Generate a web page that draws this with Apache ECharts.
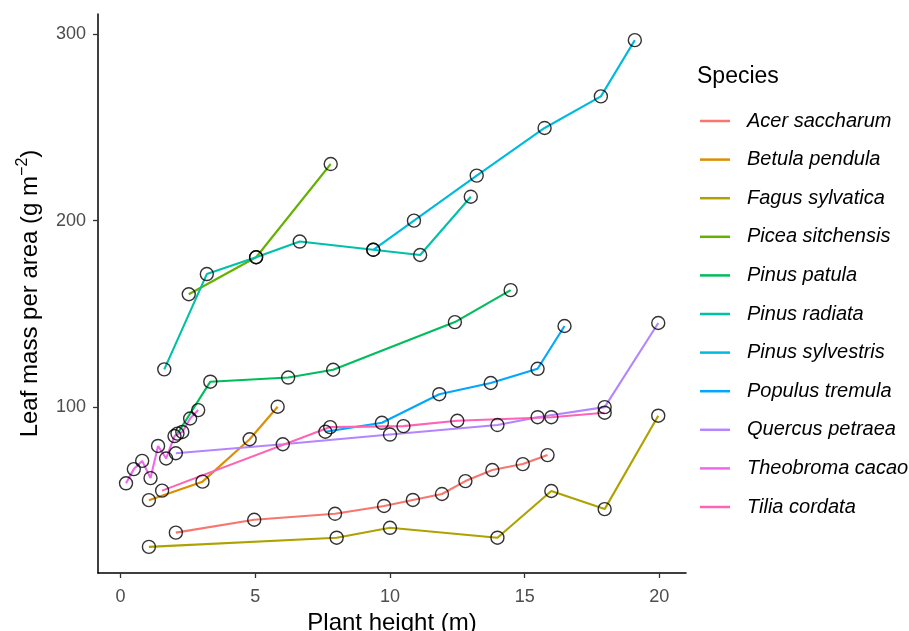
<!DOCTYPE html>
<html>
<head>
<meta charset="utf-8">
<script src="https://cdn.jsdelivr.net/npm/echarts@6/dist/echarts.min.js"></script>
<style>html,body{margin:0;padding:0;background:#fff;}#c{width:909px;height:631px;}</style>
</head>
<body>
<div id="c"></div>
<script>
const species = ["Acer saccharum","Betula pendula","Fagus sylvatica","Picea sitchensis","Pinus patula","Pinus radiata","Pinus sylvestris","Populus tremula","Quercus petraea","Theobroma cacao","Tilia cordata"];
const colors = ["#F8766D","#DB8E00","#AEA200","#64B200","#00BD5C","#00C1A7","#00BADE","#00A6FF","#B385FF","#EF67EB","#FF63B6"];

const xAcer = [2.05, 4.96, 7.96, 9.78, 10.85, 11.93, 12.8, 13.8, 14.93, 15.85];
const yAcer = [33.0, 39.9, 43.1, 47.3, 50.5, 53.7, 60.6, 66.5, 69.7, 74.5];
const xBetula = [1.05, 3.04, 4.79, 5.83];
const yBetula = [50.4, 60.3, 83.0, 100.4];
const xFagus = [1.05, 8.02, 10.0, 13.99, 15.99, 17.97, 19.96];
const yFagus = [25.4, 30.3, 35.6, 30.3, 55.3, 45.6, 95.6];
const xPicea = [2.53, 5.03, 7.8];
const yPicea = [160.6, 180.4, 230.3];
const xPatula = [2.11, 3.33, 6.22, 7.89, 12.41, 14.48];
const yPatula = [86.0, 113.8, 116.0, 120.2, 145.7, 162.8];
const xRadiata = [1.62, 3.2, 5.03, 6.65, 9.38, 11.12, 13.0];
const yRadiata = [120.4, 171.4, 180.4, 188.8, 184.4, 181.6, 212.8];
const xSylvestris = [9.38, 10.89, 13.22, 15.74, 17.83, 19.09];
const ySylvestris = [184.4, 200.0, 224.1, 249.6, 266.5, 296.6];
const xPopulus = [7.6, 9.7, 11.83, 13.74, 15.48, 16.48];
const yPopulus = [87.0, 91.8, 107.1, 113.1, 120.7, 143.6];
const xQuercus = [2.05, 6.02, 10.0, 13.99, 15.48, 17.97, 19.96];
const yQuercus = [75.5, 80.3, 85.5, 90.6, 94.8, 100.2, 145.2];
const xTheobroma = [0.2, 0.49, 0.8, 1.11, 1.39, 1.69, 2.0, 2.29, 2.58, 2.88];
const yTheobroma = [59.4, 67.0, 71.4, 62.2, 79.4, 72.7, 84.7, 86.9, 94.1, 98.6];
const xTilia = [1.54, 7.78, 10.5, 12.5, 15.99, 17.97];
const yTilia = [55.5, 89.5, 90.0, 92.9, 94.8, 97.2];

const xTicks = [0, 5, 10, 15, 20];
const yTicks = [100, 200, 300];

const xs = [xAcer, xBetula, xFagus, xPicea, xPatula, xRadiata, xSylvestris, xPopulus, xQuercus, xTheobroma, xTilia];
const ys = [yAcer, yBetula, yFagus, yPicea, yPatula, yRadiata, ySylvestris, yPopulus, yQuercus, yTheobroma, yTilia];

const FONT = "Liberation Sans";
const series = [];
species.forEach((sp, i) => {
  const data = xs[i].map((x, k) => [x, ys[i][k]]);
  series.push({
    type: 'line', name: sp, data: data, showSymbol: false, symbol: 'none',
    itemStyle: {color: colors[i]}, lineStyle: {color: colors[i], width: 2.1},
    z: 2, animation: false
  });
});
species.forEach((sp, i) => {
  const data = xs[i].map((x, k) => [x, ys[i][k]]);
  series.push({
    type: 'scatter', name: sp + ' points', data: data, symbol: 'circle', symbolSize: 13,
    itemStyle: {color: 'rgba(0,0,0,0)', borderColor: '#000', borderWidth: 1.4},
    z: 5, animation: false, silent: true
  });
});

const chart = echarts.init(document.getElementById('c'));
chart.setOption({
  animation: false,
  backgroundColor: '#fff',
  grid: {left: 98, right: 223, top: 14, bottom: 58, containLabel: false, outerBoundsMode: 'none'},
  title: {text: 'Species', left: 692, top: 60, textStyle: {fontFamily: FONT, fontSize: 23, fontWeight: 'normal', color: '#000'}},
  legend: {
    data: species, orient: 'vertical', left: 695, top: 106,
    icon: 'rect', itemWidth: 30, itemHeight: 2.5, itemGap: 18.6,
    textStyle: {fontFamily: FONT, fontSize: 20, fontStyle: 'italic', color: '#000', lineHeight: 20, padding: [0, 0, 0, 12]}
  },
  xAxis: {
    type: 'value', min: -0.84, max: 20.99,
    name: 'Plant height (m)', nameLocation: 'middle', nameGap: 34,
    nameTextStyle: {fontFamily: FONT, fontSize: 24, color: '#000'},
    axisLine: {show: true, onZero: false, lineStyle: {color: '#000', width: 1.5}},
    axisTick: {show: true, customValues: xTicks, length: 5, lineStyle: {color: '#333', width: 1.3}},
    axisLabel: {customValues: xTicks, fontFamily: FONT, fontSize: 18, color: '#4D4D4D', margin: 15},
    splitLine: {show: false}
  },
  yAxis: {
    type: 'value', min: 11.4, max: 310.6,
    name: 'Leaf mass per area (g m{sup|−2})', nameLocation: 'middle', nameGap: 52, nameRotate: 90,
    nameTextStyle: {fontFamily: FONT, fontSize: 24, color: '#000', lineHeight: 30,
      rich: {sup: {fontFamily: FONT, fontSize: 16, color: '#000', verticalAlign: 'top', lineHeight: 30}}},
    axisLine: {show: true, onZero: false, lineStyle: {color: '#000', width: 1.5}},
    axisTick: {show: true, customValues: yTicks, length: 5, lineStyle: {color: '#333', width: 1.3}},
    axisLabel: {customValues: yTicks, fontFamily: FONT, fontSize: 18, color: '#4D4D4D', margin: 12},
    splitLine: {show: false}
  },
  series: series
});
</script>
</body>
</html>
